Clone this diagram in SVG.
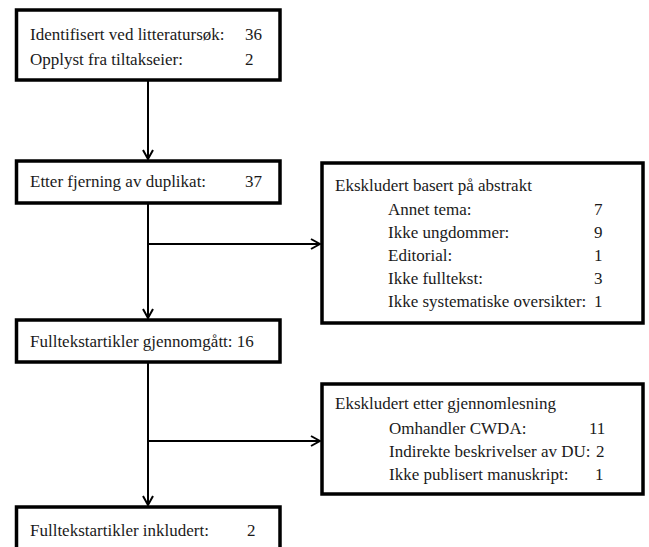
<svg xmlns="http://www.w3.org/2000/svg" width="649" height="547" viewBox="0 0 649 547">
<style>
.box{fill:#fff;stroke:#000;stroke-width:3.5}
.t{font-family:'Liberation Serif','DejaVu Serif',serif;font-size:17px;fill:#1a1a1a}
.c{stroke:#000;stroke-width:2;fill:none}
</style>
<defs>
<marker id="ah" viewBox="0 0 12 12" refX="11" refY="6" markerWidth="12" markerHeight="12" markerUnits="userSpaceOnUse" orient="auto">
<path d="M2,1 L11,6 L2,11" fill="none" stroke="#000" stroke-width="2"/>
</marker>
</defs>
<rect width="649" height="547" fill="#fff"/>
<g id="connectors">
<line class="c" x1="148" y1="80" x2="148" y2="159" marker-end="url(#ah)"/>
<line class="c" x1="148" y1="203" x2="148" y2="318" marker-end="url(#ah)"/>
<line class="c" x1="148" y1="244" x2="320" y2="244" marker-end="url(#ah)"/>
<line class="c" x1="148" y1="362" x2="148" y2="505" marker-end="url(#ah)"/>
<line class="c" x1="148" y1="441" x2="320" y2="441" marker-end="url(#ah)"/>
</g>
<g id="n1">
<rect class="box" x="16.5" y="10" width="263.5" height="70"/>
<text class="t" x="30" y="40">Identifisert ved litteratursøk:</text>
<text class="t" x="245" y="40">36</text>
<text class="t" x="30" y="65">Opplyst fra tiltakseier:</text>
<text class="t" x="245" y="65">2</text>
</g>
<g id="n2">
<rect class="box" x="16.5" y="161" width="263.5" height="42"/>
<text class="t" x="30" y="187">Etter fjerning av duplikat:</text>
<text class="t" x="245" y="187">37</text>
</g>
<g id="n3">
<rect class="box" x="322" y="163" width="321" height="160"/>
<text class="t" x="335" y="191">Ekskludert basert på abstrakt</text>
<text class="t" x="388" y="215">Annet tema:</text>
<text class="t" x="594" y="215">7</text>
<text class="t" x="388" y="238">Ikke ungdommer:</text>
<text class="t" x="594" y="238">9</text>
<text class="t" x="388" y="261">Editorial:</text>
<text class="t" x="594" y="261">1</text>
<text class="t" x="388" y="284">Ikke fulltekst:</text>
<text class="t" x="594" y="284">3</text>
<text class="t" x="388" y="307">Ikke systematiske oversikter:</text>
<text class="t" x="594" y="307">1</text>
</g>
<g id="n4">
<rect class="box" x="16.5" y="320" width="263.5" height="42"/>
<text class="t" x="30" y="347">Fulltekstartikler gjennomgått: 16</text>
</g>
<g id="n5">
<rect class="box" x="322" y="384" width="321" height="110"/>
<text class="t" x="335" y="409">Ekskludert etter gjennomlesning</text>
<text class="t" x="389" y="434">Omhandler CWDA:</text>
<text class="t" x="589" y="434">11</text>
<text class="t" x="389" y="457">Indirekte beskrivelser av DU:</text>
<text class="t" x="596" y="457">2</text>
<text class="t" x="389" y="480">Ikke publisert manuskript:</text>
<text class="t" x="595" y="480">1</text>
</g>
<g id="n6">
<rect class="box" x="16.5" y="507" width="263.5" height="46"/>
<text class="t" x="30" y="536">Fulltekstartikler inkludert:</text>
<text class="t" x="247" y="536">2</text>
</g>
</svg>
